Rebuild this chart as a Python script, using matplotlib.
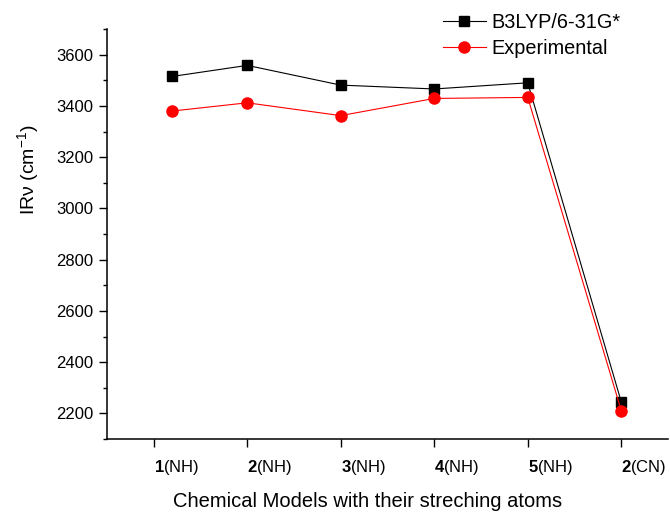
import matplotlib
matplotlib.use('Agg')
import matplotlib.pyplot as plt
import matplotlib.transforms as mtransforms
from matplotlib.ticker import MultipleLocator

plt.rcParams['font.family'] = ['Liberation Sans', 'DejaVu Sans']
plt.rcParams['mathtext.fontset'] = 'custom'
plt.rcParams['mathtext.rm'] = 'Liberation Sans'
plt.rcParams['mathtext.bf'] = 'Liberation Sans:bold'
plt.rcParams['mathtext.it'] = 'Liberation Sans:italic'

# --- data ---
x_pos = [1.2, 2, 3, 4, 5, 6]
tick_pos = [1, 2, 3, 4, 5, 6]
models = ['1', '2', '3', '4', '5', '2']
atoms = ['NH', 'NH', 'NH', 'NH', 'NH', 'CN']
b3lyp = [3515, 3558, 3481, 3466, 3490, 2245]
experimental = [3380, 3412, 3362, 3429, 3433, 2211]

fig = plt.figure(figsize=(6.7, 5.12), dpi=100)
ax = fig.add_axes([107 / 670, 73 / 512, 561 / 670, 410 / 512])

ax.plot(x_pos, b3lyp, color='black', lw=0.8, marker='s', ms=6.5,
        label='B3LYP/6-31G*')
ax.plot(x_pos, experimental, color='red', lw=0.8, marker='o', ms=8,
        label='Experimental')

ax.set_xlim(0.5, 6.5)
ax.set_ylim(2100, 3700)
ax.yaxis.set_minor_locator(MultipleLocator(100))
ax.set_yticks([2200, 2400, 2600, 2800, 3000, 3200, 3400, 3600])

ax.set_xticks(tick_pos)
ax.set_xticklabels([r'$\mathbf{%s}$(%s)' % (m, a) for m, a in zip(models, atoms)])
offset = mtransforms.ScaledTranslation(-4.7 / 100, 0, fig.dpi_scale_trans)
for lab in ax.get_xticklabels():
    lab.set_horizontalalignment('left')
    lab.set_transform(lab.get_transform() + offset)

for s in ['top', 'right']:
    ax.spines[s].set_visible(False)
for s in ['left', 'bottom']:
    ax.spines[s].set_linewidth(1.1)

ax.tick_params(axis='y', which='major', direction='out', length=6, width=1.0,
               labelsize=12, pad=4)
ax.tick_params(axis='y', which='minor', direction='out', length=3, width=1.0)
ax.tick_params(axis='x', which='major', direction='out', length=6, width=1.0,
               labelsize=12, pad=8)

fig.text(367.5 / 670, 1 - 507 / 512, 'Chemical Models with their streching atoms',
         ha='center', va='baseline', fontsize=14.5)
fig.text(28 / 670, 1 - 170 / 512, 'IRν (cm$^{-1}$)', rotation=90,
         ha='center', va='center', fontsize=14)

ax.legend(loc='upper left', bbox_to_anchor=(443 / 670, 1 - 13 / 512),
          bbox_transform=fig.transFigure, frameon=False, fontsize=14.3,
          handlelength=2.16, handletextpad=0.3, borderpad=0, borderaxespad=0,
          labelspacing=0.33)

fig.savefig('out.png', dpi=100)
